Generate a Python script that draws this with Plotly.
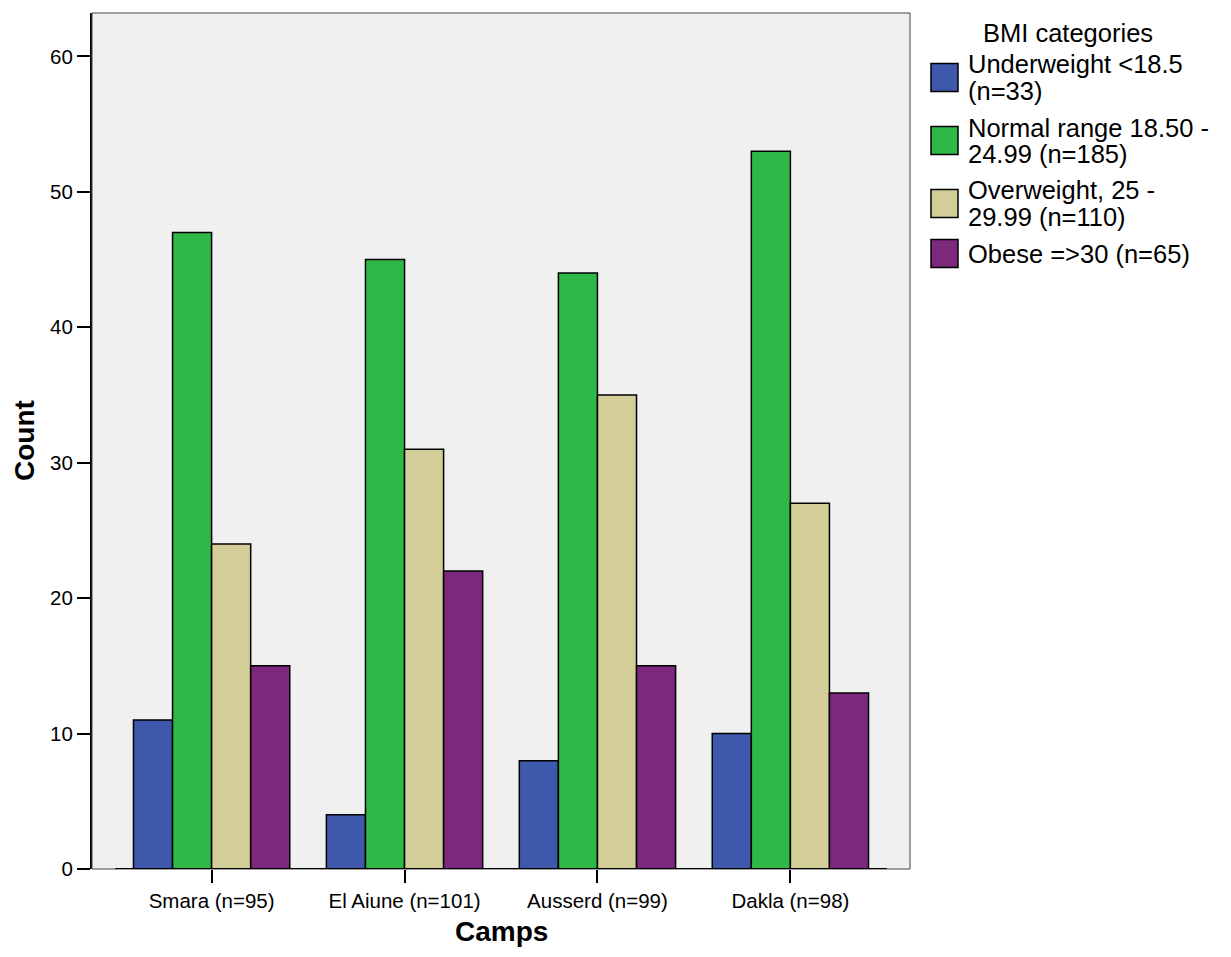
import plotly.graph_objects as go

# ---- data ----
camps = ["Smara (n=95)", "El Aiune (n=101)", "Ausserd (n=99)", "Dakla (n=98)"]
bmi_labels = [
    "Underweight <18.5<br>(n=33)",
    "Normal range 18.50 -<br>24.99 (n=185)",
    "Overweight, 25 -<br>29.99 (n=110)",
    "Obese =>30 (n=65)",
]
underweight = [11, 4, 8, 10]
normal_range = [47, 45, 44, 53]
overweight = [24, 31, 35, 27]
obese = [15, 22, 15, 13]
y_tick_values = [0, 10, 20, 30, 40, 50, 60]
legend_title = "BMI categories"
x_title = "Camps"
y_title = "Count"

series = [underweight, normal_range, overweight, obese]
colors = ["#3E58AC", "#2EB848", "#D3CE97", "#7C287D"]

OFF = 8  # default page body margin
W, H = 1231 - 2 * OFF, 957 - 2 * OFF
# plot area in page pixels
L, R, T, B = 92, 910, 13, 869
FONT = "Liberation Sans, Arial, sans-serif"


def px(x):
    return (x - L) / (R - L)


def py(y):
    return (B - y) / (B - T)


fig = go.Figure()
for name, vals, col in zip(bmi_labels, series, colors):
    fig.add_trace(go.Bar(
        x=camps, y=vals, name=name.replace("<br>", " "),
        marker=dict(color=col, line=dict(color="black", width=1.5)),
        showlegend=False,
    ))

shapes = []
# thin frame around plot area
shapes.append(dict(type="rect", xref="paper", yref="paper", x0=0, x1=1, y0=0, y1=1,
                   line=dict(color="#444444", width=1), fillcolor="rgba(0,0,0,0)", layer="above"))
# x-axis baseline (thick) between first and last category edges
shapes.append(dict(type="line", xref="x", yref="y", x0=-0.5, x1=len(camps) - 0.5, y0=0, y1=0,
                   line=dict(color="black", width=2), layer="above"))

annotations = []
# axis titles
annotations.append(dict(text="<b>" + x_title + "</b>", xref="paper", yref="paper",
                        x=0.5, y=py(957 - OFF), xanchor="center", yanchor="bottom", showarrow=False,
                        font=dict(family=FONT, size=28, color="black")))
annotations.append(dict(text="<b>" + y_title + "</b>", xref="paper", yref="paper",
                        x=px(24), y=0.5, xanchor="center", yanchor="middle", showarrow=False,
                        textangle=-90, font=dict(family=FONT, size=28, color="black")))
# legend title
annotations.append(dict(text=legend_title, xref="paper", yref="paper", x=px(1068), y=py(33),
                        xanchor="center", yanchor="middle", showarrow=False,
                        font=dict(family=FONT, size=25.5, color="black")))
# custom legend
line_h = 26
pad = 11
top = 46
for lab, col in zip(bmi_labels, colors):
    lines = lab.split("<br>")
    h = len(lines) * line_h + pad
    c = top + h / 2
    shapes.append(dict(type="rect", xref="paper", yref="paper",
                       x0=px(931), x1=px(958), y0=py(c + 14), y1=py(c - 14),
                       fillcolor=col, line=dict(color="black", width=1.5)))
    for i, ln in enumerate(lines):
        ly = c + (i - (len(lines) - 1) / 2) * line_h
        annotations.append(dict(text=ln, xref="paper", yref="paper", x=px(966), y=py(ly),
                                xanchor="left", yanchor="middle", showarrow=False,
                                font=dict(family=FONT, size=25.5, color="black")))
    top += h

fig.update_layout(
    width=W, height=H,
    margin=dict(l=L - OFF, r=W - (R - OFF), t=T - OFF, b=H - (B - OFF), pad=0, autoexpand=False),
    paper_bgcolor="white", plot_bgcolor="#F0F0F0",
    barmode="group", bargap=0.19, bargroupgap=0,
    font=dict(family=FONT, color="black"),
    shapes=shapes, annotations=annotations,
    xaxis=dict(
        range=[-0.62, len(camps) - 1 + 0.62], automargin=False,
        showgrid=False, zeroline=False, showline=False,
        ticks="outside", ticklen=13, tickwidth=2, tickcolor="black",
        tickfont=dict(family=FONT, size=20.5, color="black"),
    ),
    yaxis=dict(
        range=[0, 63.2], tickvals=y_tick_values, automargin=False,
        showgrid=False, zeroline=False,
        showline=True, linecolor="black", linewidth=2,
        ticks="outside", ticklen=13, tickwidth=2, tickcolor="black",
        tickfont=dict(family=FONT, size=20.5, color="black"),
    ),
)

fig.write_html("out.html")
